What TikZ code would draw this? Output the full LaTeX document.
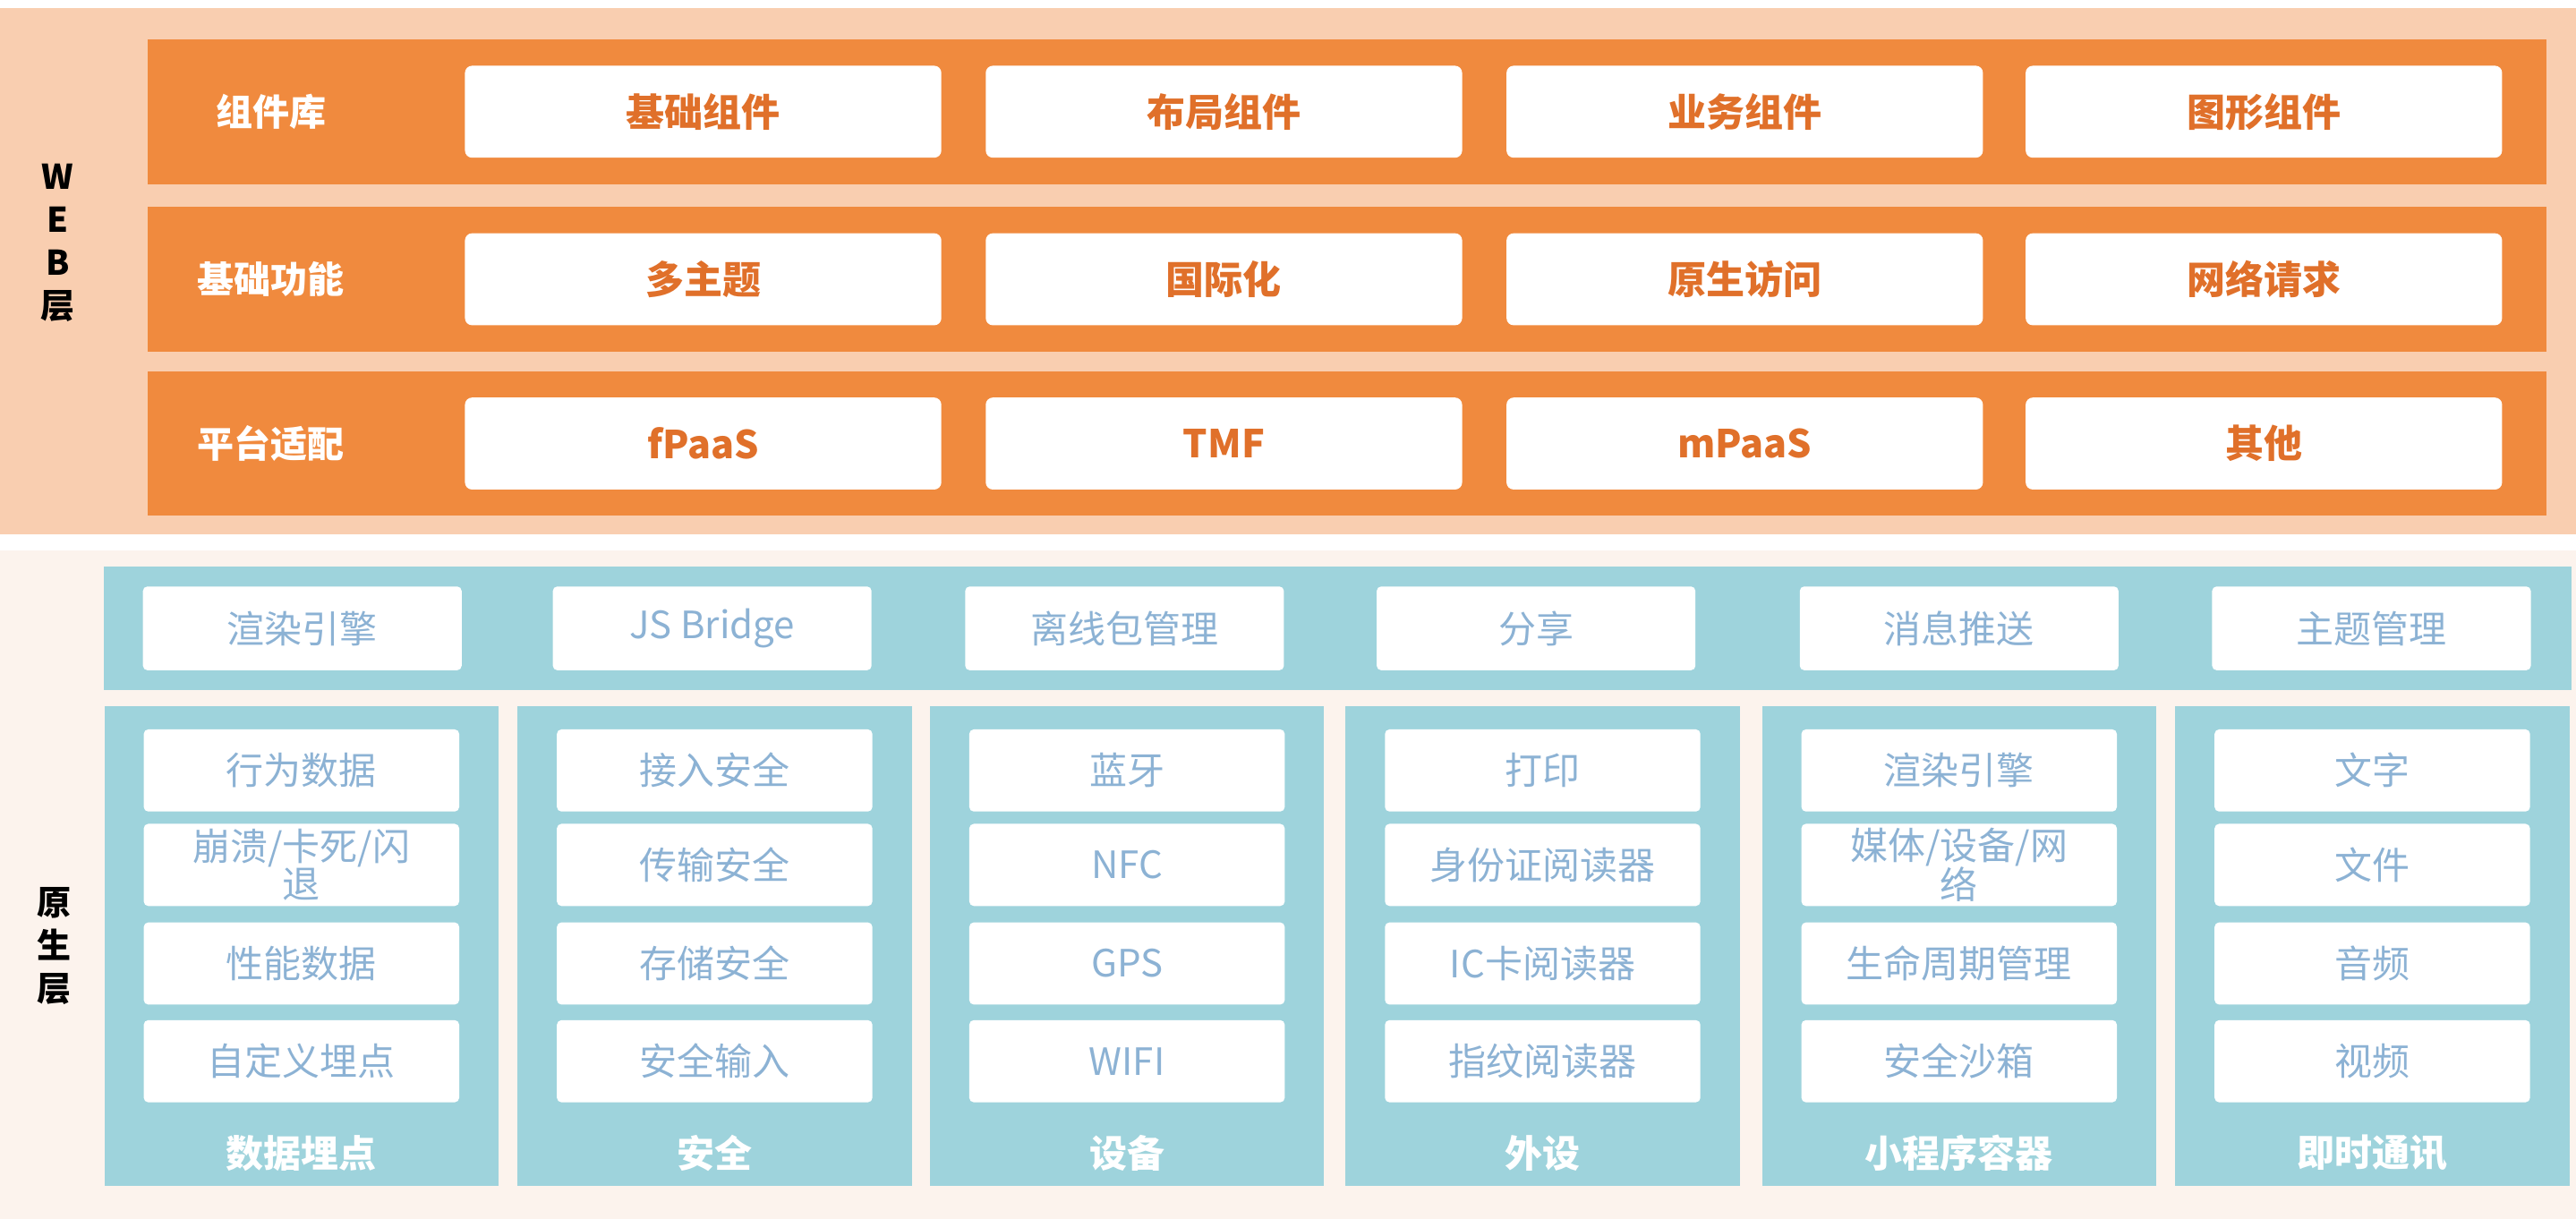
\documentclass[tikz,border=0pt]{standalone}
\usepackage{fontspec}
\setmainfont{Noto Sans CJK SC}
\usetikzlibrary{positioning}
\definecolor{bg_orange}{RGB}{249,206,176}
\definecolor{row_orange}{RGB}{240,138,62}
\definecolor{txt_orange}{RGB}{224,112,42}
\definecolor{bg_native}{RGB}{252,243,237}
\definecolor{band_teal}{RGB}{158,211,220}
\definecolor{txt_blue}{RGB}{140,178,212}

\begin{document}
\begin{tikzpicture}[x=1.8355pt,y=-1.8355pt]
    \tikzstyle{webrow}=[fill=row_orange, draw=none, minimum width=1460*1.8355pt, minimum height=88*1.8355pt]
    \tikzstyle{webbox}=[fill=white, draw=none, rounded corners=8pt, minimum width=290*1.8355pt, minimum height=56*1.8355pt, text=txt_orange, font=\fontsize{43}{46}\selectfont\bfseries]
    \tikzstyle{rowlabel}=[text=white, font=\fontsize{41}{46}\selectfont\bfseries]
    \tikzstyle{band}=[fill=band_teal, draw=none]
    \tikzstyle{natbox}=[fill=white, draw=none, rounded corners=5pt, text=txt_blue, align=center, font=\fontsize{42}{40}\selectfont]
    \tikzstyle{collabel}=[text=white, font=\fontsize{42}{46}\selectfont\bfseries]
    \tikzstyle{layer}=[text=black, align=center, font=\fontsize{38}{48}\selectfont\bfseries]

    \useasboundingbox (0,0) rectangle (1568,742);
    \fill[white] (0,0) rectangle (1568,742);

    % WEB layer
    \fill[bg_orange] (0,5) rectangle (1568,325);
    \node[layer] (web) at (35,148) {W\\E\\B\\层};
    \foreach \r/\y/\lab/\a/\b/\c/\d in {
        1/68/组件库/基础组件/布局组件/业务组件/图形组件,
        2/170/基础功能/多主题/国际化/原生访问/网络请求,
        3/270/平台适配/fPaaS/TMF/mPaaS/其他} {
      \node[webrow] (row\r) at (820,\y) {};
      \node[rowlabel] (rowlab\r) at (165,\y) {\lab};
      \node[webbox] (w\r a) at (428,\y) {\a};
      \node[webbox] (w\r b) at (745,\y) {\b};
      \node[webbox] (w\r c) at (1062,\y) {\c};
      \node[webbox] (w\r d) at (1378,\y) {\d};
    }

    % native layer
    \fill[bg_native] (0,335) rectangle (1568,742);
    \node[layer] (native) at (33,576) {原\\生\\层};
    \node[band, minimum width=1502*1.8355pt, minimum height=75*1.8355pt] (top) at (814,382.5) {};
    \foreach \x/\lab [count=\i] in {184/渲染引擎, 433.5/JS Bridge, 684.5/离线包管理,
        935/分享, 1192.5/消息推送, 1443.5/主题管理}
      \node[natbox, minimum width=194*1.8355pt, minimum height=51*1.8355pt] (t\i) at (\x,382.5) {\lab};

    \foreach \x/\lab/\a/\b/\c/\d [count=\i] in {
        183.5/数据埋点/行为数据/{崩溃/卡死/闪\\退}/性能数据/自定义埋点,
        435/安全/接入安全/传输安全/存储安全/安全输入,
        686/设备/蓝牙/NFC/GPS/WIFI,
        939/外设/打印/身份证阅读器/IC卡阅读器/指纹阅读器,
        1192.5/小程序容器/渲染引擎/{媒体/设备/网\\络}/生命周期管理/安全沙箱,
        1444/即时通讯/文字/文件/音频/视频} {
      \node[band, minimum width=240*1.8355pt, minimum height=292*1.8355pt] (col\i) at (\x,576) {};
      \node[natbox, minimum width=192*1.8355pt, minimum height=50*1.8355pt] (c\i a) at (\x,469) {\a};
      \node[natbox, minimum width=192*1.8355pt, minimum height=50*1.8355pt] (c\i b) at (\x,526.5) {\b};
      \node[natbox, minimum width=192*1.8355pt, minimum height=50*1.8355pt] (c\i c) at (\x,586.5) {\c};
      \node[natbox, minimum width=192*1.8355pt, minimum height=50*1.8355pt] (c\i d) at (\x,646) {\d};
      \node[collabel] (lab\i) at (\x,702) {\lab};
    }
\end{tikzpicture}
\end{document}
